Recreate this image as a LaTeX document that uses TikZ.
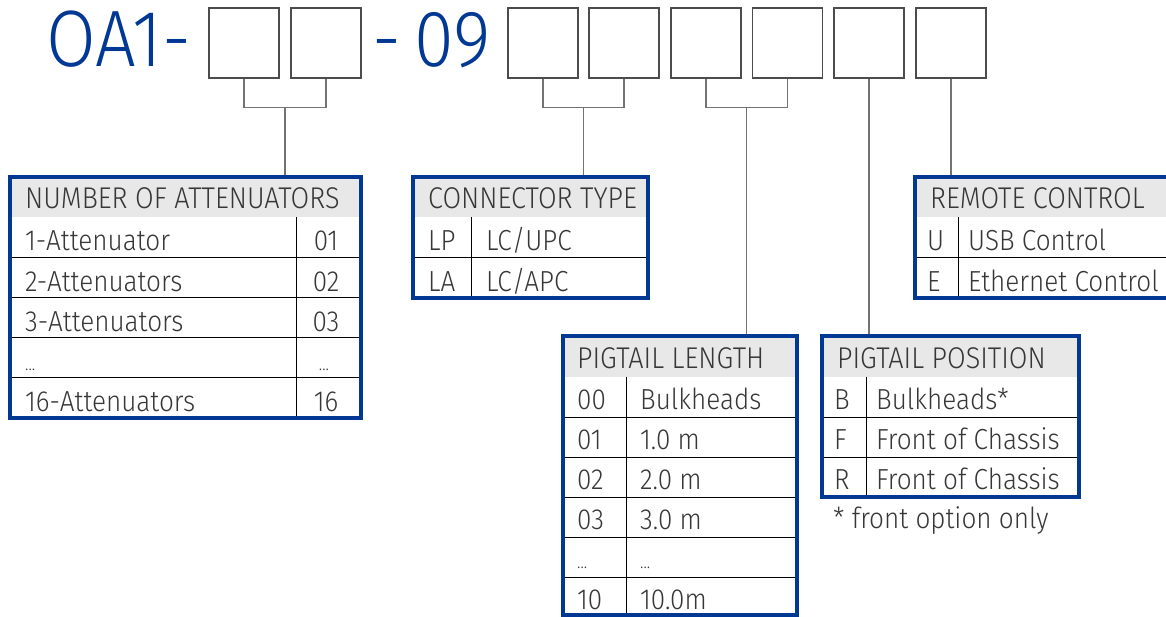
\documentclass[tikz,border=0pt]{standalone}
\usepackage{fontspec}
\setmainfont{Fira Sans}[UprightFont=* Light, FakeStretch=0.9]
\usetikzlibrary{calc,positioning}
\definecolor{azul}{RGB}{0,56,147}
\definecolor{fundo}{RGB}{232,232,232}
\definecolor{escuro}{RGB}{55,55,55}
\tikzset{
caixa/.style = {draw=black!70, line width=1.3pt, minimum width=70pt,
                minimum height=70pt, inner sep=0pt}
}
\tikzset{
ligacao/.style = {draw=black!55, line width=1.2pt}
}
\tikzset{
moldura/.style = {draw=azul, line width=3.3pt},
cabecalho/.style = {fill=fundo},
linha/.style = {draw=black, line width=1pt},
texto/.style = {anchor=base west, inner sep=0pt, text=escuro,
                font=\fontsize{29}{32}\selectfont},
topo/.style = {texto, font=\fontsize{30}{33}\selectfont},
numero/.style = {anchor=base, inner sep=0pt, text=escuro,
                font=\fontsize{29}{32}\selectfont},
titulo/.style = {anchor=base west, inner sep=0pt, text=azul,
                font=\fontsize{80}{82}\selectfont}
}

\begin{document}
\begin{tikzpicture}[x=1pt,y=-1pt]
    \useasboundingbox (0,0) rectangle (1166,617);

        % CODIGO
    \node[titulo] (oa) at (46,67) {OA1-};
    \node[caixa] (c1) at (244,43) {};
    \node[caixa] (c2) at (326,43) {};
    \node[titulo] (nove) at (372,67) {-\,09};
    \node[caixa] (c3) at (543,43) {};
    \node[caixa] (c4) at (624,43) {};
    \node[caixa] (c5) at (706,43) {};
    \node[caixa] (c6) at (787.5,43) {};
    \node[caixa] (c7) at (869,43) {};
    \node[caixa] (c8) at (951,43) {};

        % LIGACOES
    \coordinate (tnum) at (285,177);
    \coordinate (tcon) at (583.5,177);
    \coordinate (tcomp) at (746.75,336);
    \coordinate (tpos) at (869,336);
    \coordinate (trem) at (951,177);
    \draw[ligacao] (c1.south) -- ++(0,29) -| (c2.south);
    \draw[ligacao] ($(c1.south)!0.5!(c2.south)+(0,29)$) -- (tnum);
    \draw[ligacao] (c3.south) -- ++(0,29) -| (c4.south);
    \draw[ligacao] ($(c3.south)!0.5!(c4.south)+(0,29)$) -- (tcon);
    \draw[ligacao] (c5.south) -- ++(0,29) -| (c6.south);
    \draw[ligacao] ($(c5.south)!0.5!(c6.south)+(0,29)$) -- (tcomp);
    \draw[ligacao] (c7.south) -- (tpos);
    \draw[ligacao] (c8.south) -- (trem);

        % NUMBER OF ATTENUATORS
    \path[cabecalho] (10,177) rectangle (361,217.5);
    \draw[linha] (10,257.5) -- (361,257.5) (10,297.5) -- (361,297.5)
      (10,337.5) -- (361,337.5) (10,377.5) -- (361,377.5);
    \draw[linha] (296,217.5) -- (296,418);
    \draw[moldura] (10,177) rectangle (361,418);
    \node[topo] (hnum) at (25,209) {NUMBER OF ATTENUATORS};
    \node[texto] (n1) at (25,251) {1-Attenuator};
    \node[texto] (n2) at (25,291) {2-Attenuators};
    \node[texto] (n3) at (25,331) {3-Attenuators};
    \node[texto,font=\fontsize{18}{20}\selectfont] (n4) at (25,370) {...};
    \node[texto] (n5) at (25,411) {16-Attenuators};
    \node[numero] (v1) at (326,251) {01};
    \node[numero] (v2) at (326,291) {02};
    \node[numero] (v3) at (326,331) {03};
    \node[numero,font=\fontsize{18}{20}\selectfont] (v4) at (324,370) {...};
    \node[numero] (v5) at (326,411) {16};

        % CONNECTOR TYPE
    \path[cabecalho] (413,177) rectangle (648,217.5);
    \draw[linha] (413,257.5) -- (648,257.5);
    \draw[linha] (471.5,217.5) -- (471.5,298);
    \draw[moldura] (413,177) rectangle (648,298);
    \node[topo] (hcon) at (428,209) {CONNECTOR TYPE};
    \node[texto] (lp) at (428,251) {LP};
    \node[texto] (lpd) at (486,251) {LC/UPC};
    \node[texto] (la) at (428,291) {LA};
    \node[texto] (lad) at (486,291) {LC/APC};

        % PIGTAIL LENGTH
    \path[cabecalho] (563,336) rectangle (797,376.5);
    \draw[linha] (563,417) -- (797,417) (563,457) -- (797,457)
      (563,497) -- (797,497) (563,537) -- (797,537) (563,577) -- (797,577);
    \draw[linha] (626,376.5) -- (626,615);
    \draw[moldura] (563,336) rectangle (797,615);
    \node[topo] (hcomp) at (577,368) {PIGTAIL LENGTH};
    \node[texto] (p0) at (577,409.5) {00};
    \node[texto] (p0d) at (640,409.5) {Bulkheads};
    \node[texto] (p1) at (577,449.5) {01};
    \node[texto] (p1d) at (640,449.5) {1.0 m};
    \node[texto] (p2) at (577,489.5) {02};
    \node[texto] (p2d) at (640,489.5) {2.0 m};
    \node[texto] (p3) at (577,529.5) {03};
    \node[texto] (p3d) at (640,529.5) {3.0 m};
    \node[texto,font=\fontsize{18}{20}\selectfont] (p4) at (577,568) {...};
    \node[texto,font=\fontsize{18}{20}\selectfont] (p4d) at (640,568) {...};
    \node[texto] (p5) at (577,609.5) {10};
    \node[texto] (p5d) at (640,609.5) {10.0m};

        % PIGTAIL POSITION
    \path[cabecalho] (822,336) rectangle (1079,376.5);
    \draw[linha] (822,417) -- (1079,417) (822,457) -- (1079,457);
    \draw[linha] (866,376.5) -- (866,497);
    \draw[moldura] (822,336) rectangle (1079,497);
    \node[topo] (hpos) at (837,368) {PIGTAIL POSITION};
    \node[texto] (b) at (834,409.5) {B};
    \node[texto] (bd) at (876,409.5) {Bulkheads*};
    \node[texto] (f) at (834,449.5) {F};
    \node[texto] (fd) at (876,449.5) {Front of Chassis};
    \node[texto] (r) at (834,489.5) {R};
    \node[texto] (rd) at (876,489.5) {Front of Chassis};
    \node[texto] (nota) at (833,528) {* front option only};

        % REMOTE CONTROL
    \path[cabecalho] (915,177) rectangle (1180,217.5);
    \draw[linha] (915,257.5) -- (1180,257.5);
    \draw[linha] (958,217.5) -- (958,298);
    \draw[moldura] (915,177) rectangle (1180,298);
    \node[topo] (hrem) at (930,209) {REMOTE CONTROL};
    \node[texto] (u) at (927,251) {U};
    \node[texto] (ud) at (968,251) {USB Control};
    \node[texto] (e) at (927,291) {E};
    \node[texto] (ed) at (968,291) {Ethernet Control};

\end{tikzpicture}
\end{document}
